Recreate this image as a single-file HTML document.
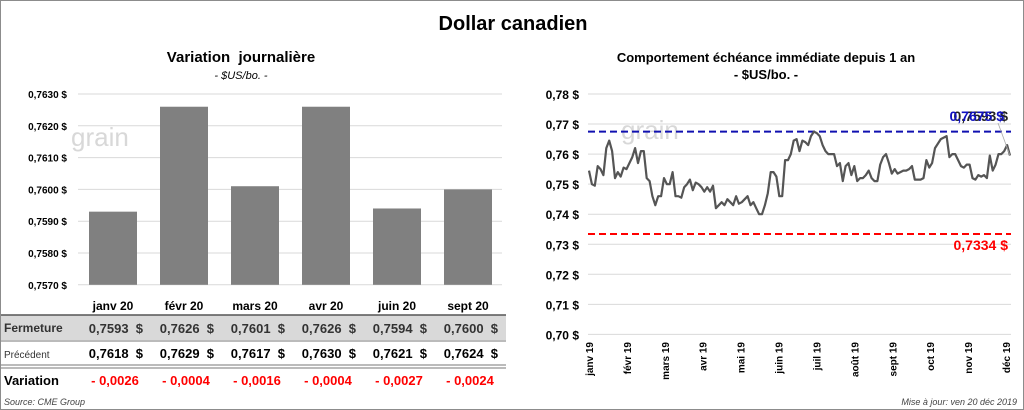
<!DOCTYPE html>
<html><head><meta charset="utf-8"><style>
body{margin:0;background:#fff;font-family:"Liberation Sans",sans-serif;}
#wrap{position:relative;width:1022px;height:408px;border:1px solid #8c8c8c;overflow:hidden;}
svg text{font-family:"Liberation Sans",sans-serif;white-space:pre;}
</style></head><body>
<div id="wrap">
<svg id="svg" width="1022" height="408">
<text x="512" y="29" text-anchor="middle" font-size="20" font-weight="bold">Dollar canadien</text>
<text x="240" y="61" text-anchor="middle" font-size="15" font-weight="bold">Variation  journalière</text>
<text x="240" y="78" text-anchor="middle" font-size="11" font-style="italic">- $US/bo. -</text>
<text x="765" y="61" text-anchor="middle" font-size="13" font-weight="bold">Comportement échéance immédiate depuis 1 an</text>
<text x="765" y="78" text-anchor="middle" font-size="13" font-weight="bold">- $US/bo. -</text>
<text x="70" y="145" font-size="26" fill="#d8d8d8">grain</text>
<text x="620" y="138" font-size="26" fill="#d8d8d8">grain</text>
<g id="left"></g><g id="right"></g>
<g id="table">
<rect x="0" y="314" width="505" height="25" fill="#d9d9d9"/>
<line x1="0" y1="314" x2="505" y2="314" stroke="#555" stroke-width="1.5"/>
<line x1="0" y1="340" x2="505" y2="340" stroke="#777" stroke-width="1"/>
<line x1="0" y1="364" x2="505" y2="364" stroke="#777" stroke-width="1"/>
<line x1="0" y1="367" x2="505" y2="367" stroke="#777" stroke-width="1"/>
<text x="3" y="331" font-size="12" font-weight="bold" fill="#333">Fermeture</text>
<text x="3" y="357" font-size="10" fill="#333">Précédent</text>
<text x="3" y="384" font-size="13" font-weight="bold">Variation</text>
<text x="3" y="404" font-size="9" font-style="italic" fill="#444">Source: CME Group</text>
</g>
<text x="1016" y="404" text-anchor="end" font-size="9" font-style="italic" fill="#444">Mise à jour: ven 20 déc 2019</text>
</svg></div>
<script>
const barCats=["janv 20","févr 20","mars 20","avr 20","juin 20","sept 20"];
const barVals=[0.7593,0.7626,0.7601,0.7626,0.7594,0.7600];
const prevVals=[0.7618,0.7629,0.7617,0.7630,0.7621,0.7624];
const varVals=[-0.0026,-0.0004,-0.0016,-0.0004,-0.0027,-0.0024];
const barTicks=[0.7570,0.7580,0.7590,0.7600,0.7610,0.7620,0.7630];
const lineVals=[0.7545,0.750,0.7495,0.756,0.755,0.753,0.762,0.7645,0.761,0.752,0.754,0.7525,0.7555,0.755,0.757,0.759,0.762,0.757,0.761,0.761,0.752,0.751,0.746,0.743,0.746,0.746,0.752,0.750,0.750,0.754,0.746,0.746,0.7455,0.749,0.750,0.7515,0.748,0.7505,0.750,0.749,0.7475,0.749,0.7475,0.7495,0.742,0.743,0.744,0.743,0.745,0.744,0.743,0.746,0.7435,0.744,0.745,0.746,0.743,0.744,0.742,0.740,0.740,0.743,0.747,0.754,0.754,0.7525,0.746,0.746,0.758,0.758,0.760,0.7645,0.765,0.761,0.7645,0.764,0.763,0.766,0.7675,0.767,0.766,0.763,0.761,0.760,0.760,0.760,0.756,0.757,0.751,0.756,0.757,0.753,0.756,0.751,0.752,0.752,0.753,0.7545,0.752,0.751,0.751,0.7565,0.759,0.760,0.757,0.7535,0.755,0.7535,0.754,0.7545,0.7545,0.755,0.756,0.7515,0.7515,0.7515,0.752,0.758,0.7555,0.757,0.762,0.7635,0.765,0.7655,0.766,0.759,0.760,0.760,0.758,0.756,0.7555,0.7565,0.7565,0.752,0.7515,0.753,0.7525,0.753,0.752,0.7595,0.7545,0.7565,0.760,0.760,0.761,0.763,0.7595];
const lineTicks=[0.70,0.71,0.72,0.73,0.74,0.75,0.76,0.77,0.78];
const monthLabels=["janv 19","févr 19","mars 19","avr 19","mai 19","juin 19","juil 19","août 19","sept 19","oct 19","nov 19","déc 19"];
const highVal=0.7675, lowVal=0.7334, lastVal=0.7593;
const NS="http://www.w3.org/2000/svg";
function mk(p,t,a,txt){const e=document.createElementNS(NS,t);for(const k in a)e.setAttribute(k,a[k]);if(txt!==undefined)e.textContent=txt;p.appendChild(e);return e;}
const fmt=(v,d)=>v.toFixed(d).replace('.',',');
const L=document.getElementById('left');
const ly=v=>93+(0.7630-v)*31800;
const lx0=88, lw=71;
barTicks.forEach(t=>{
 const g=mk(L,'line',{x1:77,x2:501,y1:ly(t),y2:ly(t),stroke:'#d9d9d9'});
 
 const tx=mk(L,'text',{x:66,y:ly(t)+4,'text-anchor':'end','font-size':10,'font-weight':'bold'},fmt(t,4)+' $');
 
});
const tb=document.getElementById('table');
barCats.forEach((c,i)=>{
 const cx=lx0+24+i*lw;
 const r=mk(L,'rect',{x:cx-24,y:ly(barVals[i]),width:48,height:ly(0.7570)-ly(barVals[i]),fill:'#808080'});
 
 const t=mk(L,'text',{x:cx,y:309,'text-anchor':'middle','font-size':12,'font-weight':'bold'},c);
 
 const a=mk(tb,'text',{x:cx+30,y:332,'text-anchor':'end','font-size':13,'font-weight':'bold',fill:'#333'},fmt(barVals[i],4)+'  $');
 
 const b=mk(tb,'text',{x:cx+30,y:357,'text-anchor':'end','font-size':13,'font-weight':'bold'},fmt(prevVals[i],4)+'  $');
 
 const v=mk(tb,'text',{x:cx+2,y:384,'text-anchor':'middle','font-size':13,'font-weight':'bold',fill:'#ff0000'},'- '+fmt(Math.abs(varVals[i]),4));
 
});
const R=document.getElementById('right');
const ry=v=>93+(0.78-v)*3005;
const rx0=588, rx1=1009;
const rx=i=>rx0+(rx1-rx0)*i/(lineVals.length-1);
lineTicks.forEach(t=>{
 const g=mk(R,'line',{x1:587,x2:1010,y1:ry(t),y2:ry(t),stroke:'#d9d9d9'});
 
 const tx=mk(R,'text',{x:578,y:ry(t)+5,'text-anchor':'end','font-size':12,'font-weight':'bold'},fmt(t,2)+' $');
 
});
monthLabels.forEach((m,i)=>{
 const x=592+i*(1009-592)/11;
 const t=mk(R,'text',{transform:`translate(${x},341) rotate(-90)`,'text-anchor':'end','font-size':10,'font-weight':'bold'},m);
 
});
const hl=mk(R,'line',{x1:587,x2:1010,y1:ry(highVal),y2:ry(highVal),stroke:'#1010b0','stroke-width':2,'stroke-dasharray':'7,4'});

const lo=mk(R,'line',{x1:587,x2:1010,y1:ry(lowVal),y2:ry(lowVal),stroke:'#ff0000','stroke-width':2,'stroke-dasharray':'7,4'});

const pts=lineVals.map((v,i)=>rx(i).toFixed(1)+','+ry(v).toFixed(1)).join(' ');
const pl=mk(R,'polyline',{points:pts,fill:'none',stroke:'#555','stroke-width':2.2,'stroke-linejoin':'round'});

const ld=mk(R,'line',{x1:997,y1:122,x2:rx(lineVals.length-1),y2:ry(lineVals[lineVals.length-1]),stroke:'#aaa','stroke-width':0.8});

const t1=mk(R,'text',{x:1007,y:120,'text-anchor':'end','font-size':14,'font-weight':'bold',fill:'#222'},fmt(lastVal,4)+' $');

const t2=mk(R,'text',{x:1003,y:120,'text-anchor':'end','font-size':14,'font-weight':'bold',fill:'#1010c0'},fmt(highVal,4)+' $');

const t3=mk(R,'text',{x:1007,y:249,'text-anchor':'end','font-size':14,'font-weight':'bold',fill:'#ff0000'},fmt(lowVal,4)+' $');

</script>
</body></html>
